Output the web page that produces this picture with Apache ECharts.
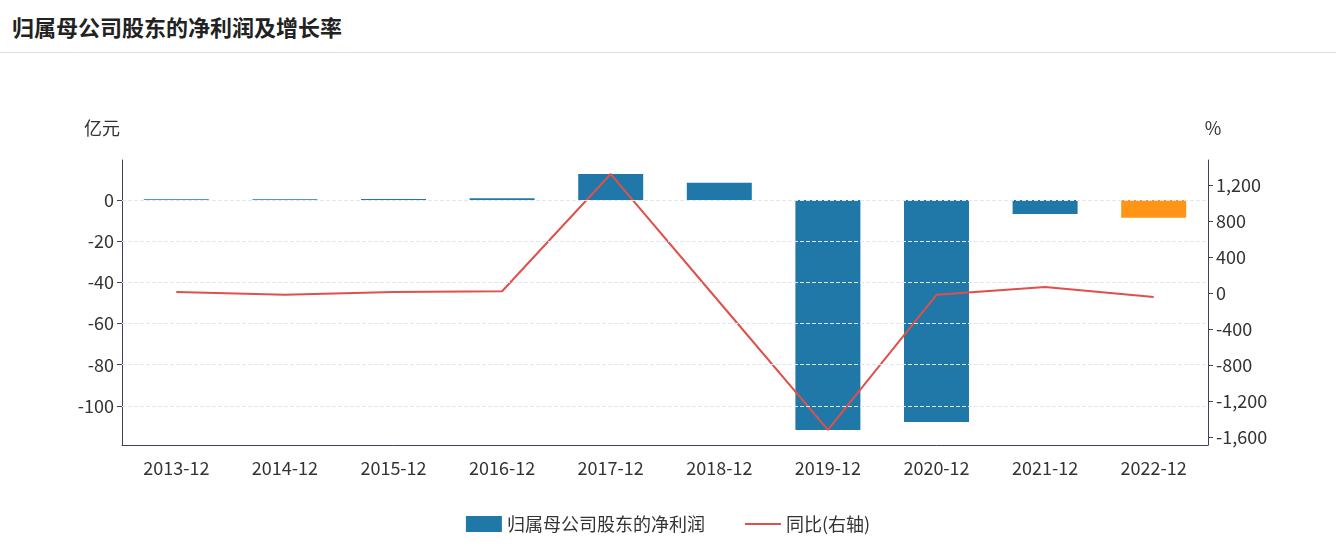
<!DOCTYPE html>
<html>
<head>
<meta charset="utf-8">
<script src="https://cdn.jsdelivr.net/npm/echarts@6/dist/echarts.min.js"></script>
<style>
  html, body { margin: 0; padding: 0; background: #fff; }
  #title { position: absolute; left: 12px; top: 10px; font: bold 22px "Noto Sans CJK SC", sans-serif; color: #222; }
  #sep { position: absolute; left: 0; right: 0; top: 52px; border-top: 1px solid #ddd; }
  #main { width: 1336px; height: 556px; }
</style>
</head>
<body>
<div id="title">归属母公司股东的净利润及增长率</div>
<div id="sep"></div>
<div id="main"></div>
<script>
var categories = ['2013-12','2014-12','2015-12','2016-12','2017-12','2018-12','2019-12','2020-12','2021-12','2022-12'];
var profit = [0.3, 0.3, 0.5, 0.8, 12.6, 8.3, -111.7, -107.8, -6.8, -8.7];
var yoy = [10, -20, 10, 20, 1322, -100, -1522, -20, 67, -44];
var leftTicks = [0, -20, -40, -60, -80, -100];
var rightTicks = [1200, 800, 400, 0, -400, -800, -1200, -1600];

var myChart = echarts.init(document.getElementById('main'));
var font = '"Noto Sans CJK SC", sans-serif';
var axisColor = '#4a3a5c';
var option = {
  textStyle: { fontFamily: font },
  grid: { left: 122, right: 128, top: 160, bottom: 111 },
  legend: {
    bottom: 18, itemGap: 40, itemWidth: 36, itemHeight: 16,
    textStyle: { fontSize: 18, color: '#333' },
    data: [{ name: '归属母公司股东的净利润', icon: 'rect' },
           { name: '同比(右轴)', icon: 'path://M0,0 L40,0 L40,2 L0,2 Z' }]
  },
  xAxis: {
    type: 'category', data: categories,
    axisLine: { onZero: false, lineStyle: { color: axisColor } },
    axisTick: { alignWithLabel: true, lineStyle: { color: axisColor } },
    axisLabel: { fontSize: 18, color: '#333', margin: 14 }
  },
  yAxis: [{
    type: 'value', name: '亿元', min: -119, max: 19.4,
    nameTextStyle: { fontSize: 18, color: '#333', padding: [0, 40, 8, 0] },
    axisLine: { show: true, lineStyle: { color: axisColor } },
    axisTick: { show: true, customValues: leftTicks, lineStyle: { color: axisColor } },
    axisLabel: { customValues: leftTicks, fontSize: 18, color: '#333' },
    splitLine: { show: false }
  }, {
    type: 'value', name: '%', min: -1689, max: 1478,
    nameTextStyle: { fontSize: 18, color: '#333', padding: [0, 0, 8, 10] },
    axisLine: { show: true, lineStyle: { color: axisColor } },
    axisTick: { show: true, customValues: rightTicks, lineStyle: { color: axisColor } },
    axisLabel: { customValues: rightTicks, fontSize: 18, color: '#333',
      formatter: function (v) { return v.toLocaleString('en-US'); } },
    splitLine: { show: false }
  }],
  series: [{
    name: 'grid', type: 'line', data: [], z: 1, silent: true,
    markLine: {
      silent: true, symbol: 'none', label: { show: false },
      lineStyle: { color: '#e3e6ee', type: 'dashed', width: 1 },
      data: leftTicks.map(function (v) { return { yAxis: v }; })
    }
  }, {
    name: '归属母公司股东的净利润', type: 'bar', barWidth: 65, z: 3,
    itemStyle: { color: '#1f78a8' },
    data: profit.map(function (v, i) {
      return i === profit.length - 1 ? { value: v, itemStyle: { color: '#ff9417' } } : v;
    })
  }, {
    name: '同比(右轴)', type: 'line', yAxisIndex: 1, data: yoy, z: 4,
    symbol: 'none', lineStyle: { color: '#e0504a', width: 2 }, itemStyle: { color: '#e0504a' }
  }]
};
myChart.setOption(option);
</script>
</body>
</html>
